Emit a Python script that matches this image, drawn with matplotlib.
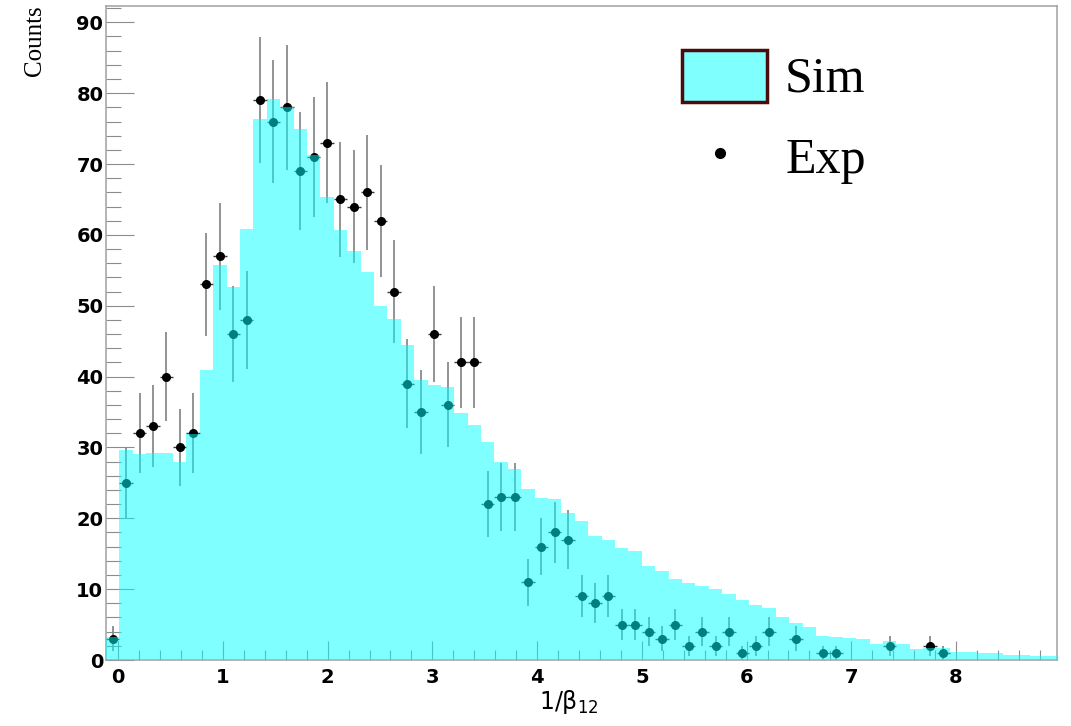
import matplotlib
matplotlib.use("Agg")
import matplotlib.pyplot as plt
import numpy as np
from matplotlib.patches import Rectangle
from matplotlib.ticker import MultipleLocator

plt.rcParams["mathtext.fontset"] = "dejavusans"

# binning of 1/beta_12
bin_low = -0.116
bin_width = 0.1279
n_bins = 71

# simulated spectrum (normalised to data)
sim_counts = [
    3.3, 29.7, 29.1, 29.2, 29.2, 28.0, 31.9, 41.0, 55.7, 52.7,
    60.9, 76.3, 79.2, 78.0, 74.9, 71.3, 65.4, 60.7, 57.7, 54.7,
    49.9, 48.1, 44.5, 39.5, 38.8, 38.5, 34.8, 33.1, 30.7, 27.9,
    26.9, 24.2, 22.9, 22.7, 20.8, 19.6, 17.5, 17.0, 15.8, 15.4,
    13.2, 12.6, 11.5, 10.8, 10.4, 10.0, 9.3, 8.5, 7.8, 7.3,
    6.1, 5.2, 4.6, 3.4, 3.3, 3.15, 3.0, 2.3, 2.7, 2.3,
    1.6, 1.65, 1.65, 1.2, 1.2, 1.05, 0.95, 0.7, 0.7, 0.6,
    0.5,
]

# measured counts per bin
exp_counts = [
    3, 25, 32, 33, 40, 30, 32, 53, 57, 46,
    48, 79, 76, 78, 69, 71, 73, 65, 64, 66,
    62, 52, 39, 35, 46, 36, 42, 42, 22, 23,
    23, 11, 16, 18, 17, 9, 8, 9, 5, 5,
    4, 3, 5, 2, 4, 2, 4, 1, 2, 4,
    0, 3, 0, 1, 1, 0, 0, 0, 2, 0,
    0, 2, 1, 0, 0, 0, 0, 0, 0, 0,
    0,
]

edges = bin_low + bin_width * np.arange(n_bins + 1)
centers = edges[:-1] + bin_width / 2
sim = np.array(sim_counts)
exp = np.array(exp_counts, dtype=float)
has_data = exp > 0

fig = plt.figure(figsize=(10.71, 7.26), dpi=100)
ax = fig.add_axes([0.099, 0.0909, 0.888, 0.9008])

# data points with Poisson errors
ax.errorbar(centers[has_data], exp[has_data], yerr=np.sqrt(exp[has_data]),
            fmt="none", ecolor="#8a8a8a", elinewidth=1.3, zorder=3)
ax.errorbar(centers[has_data], exp[has_data], xerr=bin_width / 2,
            fmt="o", ms=5.5, color="black", ecolor="#3a3a3a",
            elinewidth=1.0, zorder=3.5)

# simulation drawn on top, semi-transparent
ax.stairs(sim, edges, fill=True, color="cyan", alpha=0.5, lw=0, zorder=5)

ax.set_xlim(edges[0], edges[-1])
ax.set_ylim(0, 92.3)
ax.set_axisbelow(True)

ax.xaxis.set_major_locator(MultipleLocator(1))
ax.xaxis.set_minor_locator(MultipleLocator(0.2))
ax.yaxis.set_major_locator(MultipleLocator(10))
ax.yaxis.set_minor_locator(MultipleLocator(2))

tick_grey = "#8c8c8c"
ax.tick_params(axis="both", which="both", direction="in", color=tick_grey,
               width=0.8, labelsize=14)
ax.tick_params(axis="x", which="major", length=14, pad=6)
ax.tick_params(axis="x", which="minor", length=7)
ax.tick_params(axis="y", which="major", length=20, pad=2)
ax.tick_params(axis="y", which="minor", length=10.5)
for lab in ax.get_xticklabels() + ax.get_yticklabels():
    lab.set_fontweight("bold")

for sp in ax.spines.values():
    sp.set_color("#a0a0a0")
    sp.set_linewidth(1.1)

ax.set_xlabel("1/β$_{12}$", fontsize=17)
ax.xaxis.set_label_coords(0.487, -0.043)

fig.text(35 / 1071, 1 - 5 / 726, "Counts", rotation=90, ha="center", va="top",
         family="Liberation Serif", fontsize=18)

# legend
ax.add_patch(Rectangle((0.6057, 0.853), 0.0893, 0.0797, transform=ax.transAxes,
                       facecolor="#80ffff", edgecolor="#4a0c0c", lw=2.5,
                       zorder=6, clip_on=False))
ax.text(0.714, 0.870, "Sim", transform=ax.transAxes, family="Liberation Serif",
        fontsize=36, va="baseline", ha="left", zorder=6)
ax.plot([0.6456], [0.7752], "o", color="black", ms=7, transform=ax.transAxes,
        zorder=6)
ax.text(0.714, 0.7446, "Exp", transform=ax.transAxes, family="Liberation Serif",
        fontsize=36, va="baseline", ha="left", zorder=6)

fig.savefig("out.png", dpi=100)
